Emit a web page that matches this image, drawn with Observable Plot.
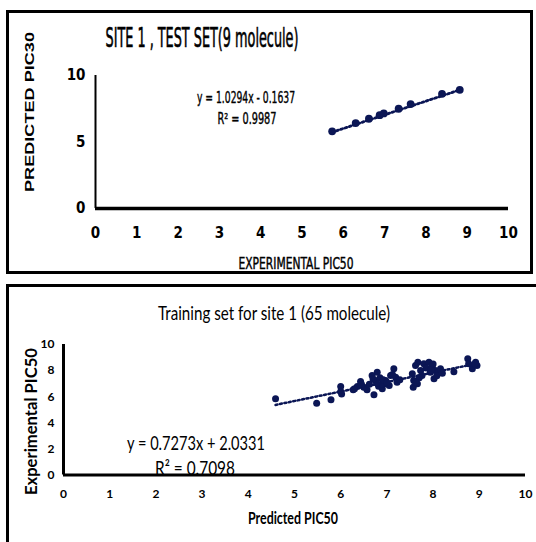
<!DOCTYPE html>
<html><head><meta charset="utf-8">
<script src="https://cdn.jsdelivr.net/npm/d3@7"></script>
<script src="https://cdn.jsdelivr.net/npm/@observablehq/plot@0.6"></script>
<style>
html,body{margin:0;padding:0;background:#fff;}
#page{position:relative;width:536px;height:542px;overflow:hidden;background:#fff;}
.box{position:absolute;border:3px solid #000;box-sizing:border-box;z-index:2;pointer-events:none;}
#p1,#p2{position:absolute;left:0;}
#p1{top:0;} #p2{top:280px;}
</style></head><body><div id="page">
<div id="p1"></div><div id="p2"></div>
<div class="box" style="left:6px;top:10px;width:527px;height:264px"></div>
<div class="box" style="left:6px;top:284px;width:545px;height:300px"></div>
</div>
<script>
// ---- Data: test set (site 1, 9 molecules) ----
const testExperimental = [5.73, 6.30, 6.62, 6.88, 6.98, 7.34, 7.63, 8.39, 8.82];
const testPredicted    = [5.80, 6.42, 6.75, 7.02, 7.15, 7.50, 7.85, 8.62, 8.92];
const testFit = [1.0294, -0.1637]; // slope, intercept
const testEquation = ["y = 1.0294x - 0.1637", "R² = 0.9987"];
const testXTicks = [0,1,2,3,4,5,6,7,8,9,10];
const testYTicks = [0,5,10];
const testTitle = "SITE 1 , TEST SET(9 molecule)";
const testXLabel = "EXPERIMENTAL PIC50";
const testYLabel = "PREDICTED PIC30";

// ---- Data: training set (site 1, 65 molecules) ----
const trainPredicted = [
  4.59, 5.48, 5.79, 6.00, 6.00, 6.27, 6.36, 6.43, 6.50, 6.57,
  6.72, 6.68, 6.79, 6.75, 6.82, 6.90, 6.95, 7.15, 7.08, 6.97,
  6.90, 7.19, 7.22, 7.55, 7.62, 7.67, 7.58, 7.57, 7.66, 7.73,
  7.80, 7.91, 7.98, 7.94, 8.02, 8.05, 8.12, 8.16, 7.76, 8.45,
  8.75, 8.77, 8.85, 8.92, 8.95, 6.85, 6.78, 7.05, 6.62, 7.28,
  7.12, 6.92, 7.70, 7.85, 8.00, 8.08, 8.20, 7.62, 6.45, 6.30,
  6.02, 7.00, 8.90, 7.95, 6.70
];
const trainExperimental = [
  5.84, 5.50, 5.76, 6.78, 6.40, 6.53, 6.78, 7.16, 6.73, 6.53,
  6.15, 7.62, 7.88, 7.24, 6.80, 6.60, 6.99, 8.14, 7.62, 7.24,
  6.99, 7.49, 7.11, 7.75, 8.39, 8.64, 7.24, 6.73, 6.99, 8.01,
  8.52, 8.64, 8.39, 7.88, 7.37, 8.01, 7.88, 8.14, 7.62, 7.92,
  8.90, 8.52, 8.14, 8.64, 8.39, 7.45, 7.05, 6.85, 6.95, 7.30,
  7.70, 7.30, 7.45, 8.20, 8.50, 7.60, 7.80, 7.10, 6.95, 6.60,
  6.20, 7.10, 8.50, 8.05, 7.35
];
const trainFit = [0.7273, 2.0331];
const trainEquation = ["y = 0.7273x + 2.0331", "R² = 0.7098"];
const trainXTicks = [0,1,2,3,4,5,6,7,8,9,10];
const trainYTicks = [0,2,4,6,8,10];
const trainTitle = "Training set for site 1 (65 molecule)";
const trainXLabel = "Predicted PIC50";
const trainYLabel = "Experimental PIC50";

const navy = "#0b1655";
const narrow = "'Liberation Sans Narrow','DejaVu Sans Condensed',sans-serif";
const lato = "Lato,'Open Sans',sans-serif";

function addText(svg, o) {
  const t = d3.select(svg).insert("text", ":first-child")
    .text(o.text)
    .attr("text-anchor", "middle")
    .attr("fill", "#000")
    .style("font-family", o.family)
    .style("font-size", o.size + "px")
    .style("font-weight", o.weight || "normal")
    .attr("textLength", o.len)
    .attr("lengthAdjust", "spacingAndGlyphs");
  if (o.thicken) t.attr("stroke", "#000").attr("stroke-width", o.thicken);
  if (o.rotate) t.attr("transform", `translate(${o.x},${o.y}) rotate(-90)`);
  else t.attr("x", o.x).attr("y", o.y);
}

// ---- Panel 1 ----
const test = testExperimental.map((x, i) => ({x, y: testPredicted[i]}));
const testLine = d3.extent(testExperimental).map(x => ({x, y: testFit[0] * x + testFit[1]}));
const p1 = Plot.plot({
  width: 536, height: 280,
  marginLeft: 95, marginRight: 28, marginTop: 75, marginBottom: 72,
  style: {background: "none", fontFamily: narrow, fontSize: "15px", fontWeight: "bold", color: "#000"},
  x: {domain: [0, 10]},
  y: {domain: [0, 10]},
  marks: [
    Plot.axisX({ticks: testXTicks, tickSize: 0, tickPadding: 19, label: null}),
    Plot.axisY({ticks: testYTicks, tickSize: 0, tickPadding: 10, label: null}),
    Plot.ruleY([0], {stroke: "#000", strokeWidth: 3.5}),
    Plot.ruleX([0], {stroke: "#000", strokeWidth: 2}),
    Plot.line(testLine, {x: "x", y: "y", stroke: navy, strokeWidth: 2.8, strokeDasharray: "2,2.5"}),
    Plot.dot(test, {x: "x", y: "y", r: 3.9, fill: navy})
  ]
});
addText(p1, {text: testTitle, x: 202, y: 47, len: 193, size: 27, thicken: 0.6, family: narrow});
addText(p1, {text: testEquation[0], x: 246, y: 103, len: 98, size: 16, thicken: 0.4, family: narrow});
addText(p1, {text: testEquation[1], x: 247, y: 124, len: 59, size: 16, thicken: 0.4, family: narrow});
addText(p1, {text: testXLabel, x: 296, y: 269, len: 115, size: 15, thicken: 0.4, family: narrow});
addText(p1, {text: testYLabel, x: 34, y: 112, len: 160, size: 13, weight: "bold", family: "'Liberation Sans',Arial,sans-serif", rotate: true});
document.getElementById("p1").appendChild(p1);

// ---- Panel 2 ----
const train = trainPredicted.map((x, i) => ({x, y: trainExperimental[i]}));
const trainLine = d3.extent(trainPredicted).map(x => ({x, y: trainFit[0] * x + trainFit[1]}));
const p2 = Plot.plot({
  width: 536, height: 262,
  marginLeft: 63, marginRight: 11, marginTop: 64, marginBottom: 67.5,
  style: {background: "none", fontFamily: lato, fontSize: "12px", fontWeight: "bold", color: "#000"},
  x: {domain: [0, 10]},
  y: {domain: [0, 10]},
  marks: [
    Plot.axisX({ticks: trainXTicks, tickSize: 0, tickPadding: 14, label: null}),
    Plot.axisY({ticks: trainYTicks, tickSize: 0, tickPadding: 9, label: null}),
    Plot.ruleY([0], {stroke: "#000", strokeWidth: 3}),
    Plot.ruleX([0], {stroke: "#000", strokeWidth: 3}),
    Plot.line(trainLine, {x: "x", y: "y", stroke: navy, strokeWidth: 2.5, strokeDasharray: "2,2.5"}),
    Plot.dot(train, {x: "x", y: "y", r: 3.5, fill: navy})
  ]
});
addText(p2, {text: trainTitle, x: 274, y: 40, len: 232, size: 20, family: lato});
addText(p2, {text: trainEquation[0], x: 196, y: 169.5, len: 138, size: 19, family: lato});
addText(p2, {text: trainEquation[1], x: 195, y: 195, len: 80, size: 19, family: lato});
addText(p2, {text: trainXLabel, x: 293, y: 244, len: 90, size: 17, weight: "bold", family: lato});
addText(p2, {text: trainYLabel, x: 37, y: 141.5, len: 147, size: 17, weight: "bold", family: lato, rotate: true});
document.getElementById("p2").appendChild(p2);
</script>
</body></html>
